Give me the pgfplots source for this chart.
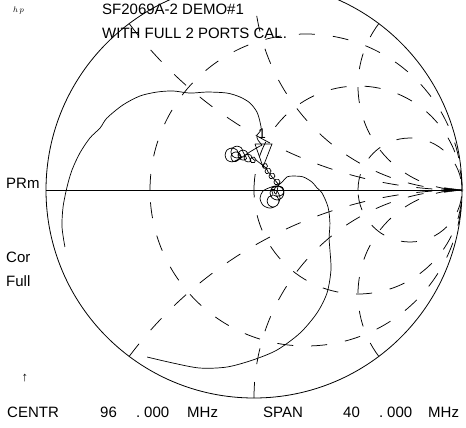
\documentclass[border=0pt]{standalone}
\usepackage{fontspec}
\setmainfont{Liberation Sans}
\usepackage{pgfplots}
\pgfplotsset{compat=1.18}
\newcommand{\fs}{\fontsize{15}{18}\selectfont}
\begin{document}
\begin{tikzpicture}
\begin{axis}[
  scale only axis, width=466pt, height=427pt,
  xmin=-1.221154, xmax=1.019231, ymin=-1.139423, ymax=0.913462,
  hide axis, clip=false,
]
% Smith chart graticule (dashed): r = 1/3, 1, 3 ; x = +-0.5, +-1, +-2
\begin{scope}[line width=0.75pt, dash pattern=on 16pt off 18pt]
  \draw (axis cs:-0.5,0) arc[start angle=180, end angle=-180, radius=156pt];
  \draw (axis cs:0,0) arc[start angle=180, end angle=-180, radius=104pt];
  \draw (axis cs:0.5,0) arc[start angle=180, end angle=-180, radius=52pt];
  \draw (axis cs:-0.6,0.8) arc[start angle=216.87, end angle=270, radius=416pt];
  \draw (axis cs:0,1) arc[start angle=180, end angle=270, radius=208pt];
  \draw (axis cs:0.6,0.8) arc[start angle=143.13, end angle=270, radius=104pt];
  \draw (axis cs:-0.6,-0.8) arc[start angle=143.13, end angle=90, radius=416pt];
  \draw (axis cs:0,-1) arc[start angle=180, end angle=90, radius=208pt];
  \draw (axis cs:0.6,-0.8) arc[start angle=216.87, end angle=90, radius=104pt];
\end{scope}
\draw[line width=0.8pt] (axis cs:0,0) circle[radius=208pt];
% real axis
\addplot[black, line width=0.9pt] coordinates {(-1,0) (1,0)};
% reference arrow
\addplot[black, fill=black, line width=0.4pt] coordinates {(0.915,0.011) (1.0,0) (0.915,-0.011) (0.915,0.011)};
% measured trace
\addplot[black, line width=0.7pt, smooth, tension=0.5] coordinates {
(-0.514,-0.803) (-0.389,-0.832) (-0.260,-0.856) (-0.130,-0.851) (-0.005,-0.817)
(0.111,-0.769) (0.221,-0.688) (0.303,-0.591) (0.351,-0.495) (0.370,-0.385)
(0.365,-0.288) (0.361,-0.230) (0.365,-0.159) (0.356,-0.082) (0.327,-0.014)
(0.303,0.010) (0.279,0.038) (0.236,0.063) (0.188,0.067) (0.159,0.063) (0.135,0.038)
(0.111,0.019) (0.087,0.010) (0.077,-0.014) (0.087,-0.038) (0.111,-0.048) (0.134,-0.038) (0.144,-0.014) (0.134,0.010) (0.108,0.020)
(0.077,0.012) (0.043,-0.005) (0.029,-0.039) (0.043,-0.073) (0.077,-0.087) (0.111,-0.073) (0.125,-0.039) (0.111,-0.005) (0.085,0.002)
(0.091,-0.024) (0.071,-0.033) (0.063,-0.053) (0.071,-0.073) (0.091,-0.082) (0.112,-0.073) (0.120,-0.053) (0.112,-0.033) (0.100,-0.027)
(0.120,-0.029) (0.137,-0.022) (0.144,-0.005) (0.137,0.012) (0.120,0.019) (0.103,0.012) (0.096,-0.005) (0.106,-0.020)
(0.118,0.026) (0.125,0.039) (0.118,0.051) (0.103,0.051) (0.096,0.039) (0.103,0.026) (0.115,0.030)
(0.094,0.055) (0.101,0.067) (0.094,0.080) (0.079,0.080) (0.072,0.067) (0.079,0.055) (0.090,0.058)
(0.075,0.079) (0.082,0.091) (0.075,0.104) (0.060,0.104) (0.053,0.091) (0.060,0.079) (0.070,0.082)
(0.059,0.105) (0.065,0.115) (0.059,0.126) (0.047,0.126) (0.041,0.115) (0.047,0.105) (0.055,0.108)
(0.010,0.144) (0.002,0.157) (-0.012,0.157) (-0.019,0.144) (-0.012,0.132) (0.002,0.132) (0.006,0.140)
(-0.010,0.154) (-0.015,0.167) (-0.029,0.173) (-0.042,0.167) (-0.048,0.154) (-0.042,0.140) (-0.029,0.135) (-0.015,0.140)
(-0.029,0.168) (-0.036,0.185) (-0.053,0.192) (-0.070,0.185) (-0.077,0.168) (-0.070,0.151) (-0.053,0.144) (-0.036,0.151)
(-0.053,0.183) (-0.061,0.203) (-0.082,0.211) (-0.102,0.203) (-0.111,0.183) (-0.102,0.162) (-0.082,0.154) (-0.061,0.162)
(-0.072,0.168) (-0.082,0.192) (-0.106,0.202) (-0.130,0.192) (-0.139,0.168) (-0.130,0.144) (-0.106,0.135) (-0.082,0.144)
(-0.063,0.159) (-0.070,0.176) (-0.087,0.183) (-0.104,0.176) (-0.111,0.159) (-0.104,0.142) (-0.087,0.137)
(-0.040,0.170) (0.000,0.195) (0.030,0.212)
(0.038,0.216) (0.019,0.240) (0.014,0.264) (0.034,0.288) (0.029,0.327) (0.014,0.375)
(-0.019,0.418) (-0.067,0.447) (-0.130,0.466) (-0.226,0.471) (-0.308,0.466) (-0.389,0.476)
(-0.466,0.471) (-0.548,0.452) (-0.630,0.409) (-0.707,0.346) (-0.740,0.298) (-0.789,0.250)
(-0.837,0.178) (-0.875,0.096) (-0.899,0.014) (-0.918,-0.082) (-0.923,-0.178) (-0.909,-0.274)
};
% marker 1
\addplot[black, line width=0.7pt] coordinates {(0.0048,0.2212) (0.0865,0.2212) (0.0433,0.1106) (0.0048,0.2212)};
\node[anchor=base west, inner sep=0pt] at (rel axis cs:0.5536,0.6750) {\fontsize{14}{16}\selectfont 1};
% annotations
\node[anchor=base west, inner sep=0pt] at (rel axis cs:0.0279,0.9719) {\fontsize{8}{8}\selectfont $h\,p$};
\node[anchor=base west, inner sep=0pt] at (rel axis cs:0.2189,0.9649) {\fs SF2069A-2 DEMO\#1};
\node[anchor=base west, inner sep=0pt] at (rel axis cs:0.2189,0.9110) {\fs WITH FULL 2 PORTS CAL.};
\node[anchor=base west, inner sep=0pt] at (rel axis cs:0.0129,0.5574) {\fs PRm};
\node[anchor=base west, inner sep=0pt] at (rel axis cs:0.0129,0.3864) {\fs Cor};
\node[anchor=base west, inner sep=0pt] at (rel axis cs:0.0129,0.3279) {\fs Full};
\node[anchor=center, inner sep=0pt] at (rel axis cs:0.0536,0.1148) {\fontsize{13}{13}\selectfont ↑};
\node[anchor=base west, inner sep=0pt] at (rel axis cs:0.0150,0.0234) {\fs CENTR};
\node[anchor=base west, inner sep=0pt] at (rel axis cs:0.2146,0.0234) {\fs 96};
\node[anchor=base west, inner sep=0pt] at (rel axis cs:0.2918,0.0234) {\fs .};
\node[anchor=base west, inner sep=0pt] at (rel axis cs:0.3090,0.0234) {\fs 000};
\node[anchor=base west, inner sep=0pt] at (rel axis cs:0.4013,0.0234) {\fs MHz};
\node[anchor=base west, inner sep=0pt] at (rel axis cs:0.5644,0.0234) {\fs SPAN};
\node[anchor=base west, inner sep=0pt] at (rel axis cs:0.7361,0.0234) {\fs 40};
\node[anchor=base west, inner sep=0pt] at (rel axis cs:0.8133,0.0234) {\fs .};
\node[anchor=base west, inner sep=0pt] at (rel axis cs:0.8305,0.0234) {\fs 000};
\node[anchor=base west, inner sep=0pt] at (rel axis cs:0.9185,0.0234) {\fs MHz};
\end{axis}
\pgfresetboundingbox
\path (current axis.south west) rectangle (current axis.north east);
\end{tikzpicture}
\end{document}
